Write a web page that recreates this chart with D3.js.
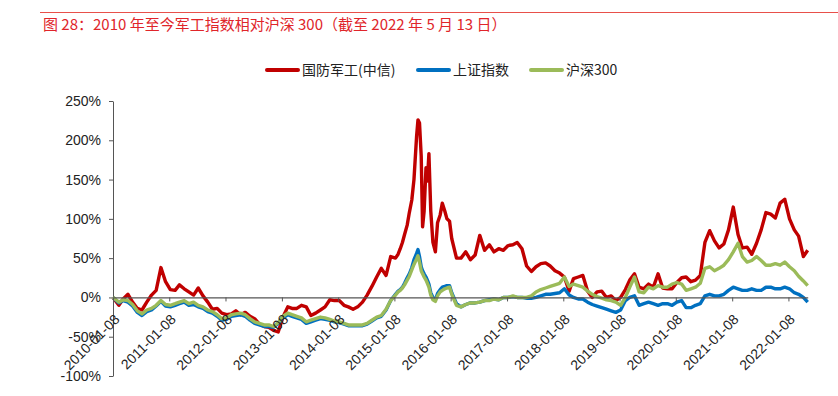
<!DOCTYPE html>
<html>
<head>
<meta charset="utf-8">
<script src="https://cdn.jsdelivr.net/npm/d3@7/dist/d3.min.js"></script>
<style>
  body { margin: 0; background: #fff; }
  svg { display: block; }
</style>
</head>
<body>
<svg id="chart" width="838" height="396"></svg>
<script>
// dates (monthly, with denser points through 2015)
const dates = [
  "2010-01-08","2010-02-15","2010-03-15","2010-04-15","2010-05-15","2010-06-15","2010-07-15","2010-08-15","2010-09-15","2010-10-15","2010-11-15","2010-12-15",
  "2011-01-15","2011-02-15","2011-03-15","2011-04-15","2011-05-15","2011-06-15","2011-07-15","2011-08-15","2011-09-15","2011-10-15","2011-11-15","2011-12-15",
  "2012-01-15","2012-02-15","2012-03-15","2012-04-15","2012-05-15","2012-06-15","2012-07-15","2012-08-15","2012-09-15","2012-10-15","2012-11-15","2012-12-15",
  "2013-01-15","2013-02-15","2013-03-15","2013-04-15","2013-05-15","2013-06-15","2013-07-15","2013-08-15","2013-09-15","2013-10-15","2013-11-15","2013-12-15",
  "2014-01-15","2014-02-15","2014-03-15","2014-04-15","2014-05-15","2014-06-15","2014-07-15","2014-08-15","2014-09-15","2014-10-15","2014-11-15","2014-12-15",
  "2015-01-15","2015-02-01","2015-02-15","2015-03-01","2015-03-15","2015-04-01","2015-04-15","2015-05-01","2015-05-15","2015-06-01","2015-06-10","2015-06-20",
  "2015-07-01","2015-07-10","2015-07-20","2015-08-01","2015-08-10","2015-08-20","2015-09-01","2015-09-15","2015-10-01","2015-10-15","2015-11-01","2015-11-15",
  "2015-12-01","2015-12-15","2016-01-01","2016-01-15",
  "2016-02-15","2016-03-15","2016-04-15","2016-05-15","2016-06-15","2016-07-15","2016-08-15","2016-09-15","2016-10-15","2016-11-15","2016-12-15",
  "2017-01-15","2017-02-15","2017-03-15","2017-04-15","2017-05-15","2017-06-15","2017-07-15","2017-08-15","2017-09-15","2017-10-15","2017-11-15","2017-12-15",
  "2018-01-15","2018-02-15","2018-03-15","2018-04-15","2018-05-15","2018-06-15","2018-07-15","2018-08-15","2018-09-15","2018-10-15","2018-11-15","2018-12-15",
  "2019-01-15","2019-02-15","2019-03-15","2019-04-15","2019-05-15","2019-06-15","2019-07-15","2019-08-15","2019-09-15","2019-10-15","2019-11-15","2019-12-15",
  "2020-01-15","2020-02-15","2020-03-15","2020-04-15","2020-05-15","2020-06-15","2020-07-15","2020-08-15","2020-09-15","2020-10-15","2020-11-15","2020-12-15",
  "2021-01-15","2021-02-15","2021-03-15","2021-04-15","2021-05-15","2021-06-15","2021-07-15","2021-08-15","2021-09-15","2021-10-15","2021-11-15","2021-12-15",
  "2022-01-15","2022-02-15","2022-03-15","2022-04-15","2022-05-13"
]

// 国防军工(中信), relative change %
const defense = [
  0,-10,-2,4,-6,-14,-16,-6,3,9,38,20,
  10,9,16,11,7,3,12,2,-6,-15,-14,-20,
  -22,-21,-17,-22,-19,-24,-27,-34,-37,-38,-42,-44,
  -25,-12,-14,-14,-10,-12,-23,-20,-16,-12,-3,-4,
  -4,-10,-12,-15,-12,-6,3,14,26,37,28,52,
  50,55,62,70,80,92,108,124,150,205,226,222,
  180,90,110,165,148,183,110,70,58,95,105,120,
  110,100,97,75,
  50,50,58,48,54,79,60,67,58,62,60,
  66,67,70,62,40,33,39,43,44,40,34,31,
  26,8,24,26,28,8,0,7,8,0,2,-4,
  0,10,22,30,13,11,17,13,30,12,11,11,
  19,25,26,20,22,28,70,85,72,63,68,86,
  115,80,63,64,55,69,86,108,106,101,120,125,
  100,86,78,52,60
]

// 上证指数
const shIndex = [
  0,-7,-4,-6,-11,-19,-23,-18,-16,-11,-5,-11,
  -12,-10,-8,-6,-10,-9,-12,-14,-18,-20,-24,-29,
  -28,-24,-23,-22,-24,-29,-33,-35,-37,-37,-38,-33,
  -26,-22,-24,-26,-28,-33,-31,-29,-27,-28,-29,-31,
  -32,-34,-36,-36,-36,-36,-34,-30,-26,-24,-16,-4,
  4,8,10,13,18,25,30,38,48,56,61,52,
  39,34,30,26,22,17,6,0,-3,5,10,13,
  14,15,15,6,
  -8,-12,-9,-7,-7,-6,-4,-3,-2,-3,0,
  0,1,0,0,-1,-1,0,2,4,4,5,6,
  11,3,0,-2,-2,-6,-9,-11,-13,-15,-17,-19,
  -16,-4,0,2,-10,-8,-6,-8,-10,-8,-8,-10,
  -6,-4,-13,-13,-10,-8,2,4,2,2,4,9,
  13,11,9,9,11,9,9,13,13,11,11,13,
  11,6,4,0,-6
]

// 沪深300
const csi300 = [
  0,-6,-3,-4,-9,-17,-21,-16,-14,-10,-4,-9,
  -10,-8,-6,-4,-8,-6,-10,-12,-16,-18,-22,-27,
  -26,-22,-21,-20,-22,-27,-31,-33,-35,-35,-37,-32,
  -24,-20,-22,-24,-26,-31,-29,-27,-25,-26,-28,-30,
  -31,-33,-35,-35,-35,-35,-33,-29,-25,-23,-15,-4,
  3,7,9,12,16,22,27,35,42,49,53,45,
  34,30,26,22,18,13,3,-3,-5,2,7,9,
  11,12,13,4,
  -10,-12,-9,-7,-7,-6,-4,-4,-2,-3,0,
  0,2,0,0,0,2,7,10,12,14,16,18,
  26,14,17,15,13,8,4,1,-1,-3,-4,-6,
  -10,0,13,26,7,6,13,11,15,13,13,17,
  19,17,9,11,13,18,37,39,34,37,41,48,
  58,69,52,45,47,52,47,41,41,43,41,45,
  39,34,27,21,15
]

const seriesNames = ["国防军工(中信)", "上证指数", "沪深300"]
const colors = ["#c00000", "#0070c0", "#9bbb59"]
const xTicks = ["2010-01-08","2011-01-08","2012-01-08","2013-01-08","2014-01-08","2015-01-08",
  "2016-01-08","2017-01-08","2018-01-08","2019-01-08","2020-01-08","2021-01-08","2022-01-08"]
const yTicks = [-100, -50, 0, 50, 100, 150, 200, 250]

const parse = d3.timeParse("%Y-%m-%d")
const svg = d3.select("#chart")

// title + rule
svg.append("line")
  .attr("x1", 40).attr("x2", 838).attr("y1", 12.5).attr("y2", 12.5)
  .attr("stroke", "#e8504a").attr("stroke-width", 1)
svg.append("text")
  .attr("x", 43).attr("y", 30)
  .attr("font-family", "'Noto Sans CJK SC', sans-serif")
  .attr("font-size", 15)
  .attr("fill", "#e0252a")
  .text("图 28：2010 年至今军工指数相对沪深 300（截至 2022 年 5 月 13 日）")

// scales
const x = d3.scaleTime()
  .domain([parse("2010-01-08"), parse("2022-05-13")])
  .range([113, 807.7])
const y = d3.scaleLinear().domain([-100, 250]).range([376, 101])

// y axis
const yAxis = svg.append("g")
  .attr("transform", "translate(113,0)")
  .call(d3.axisLeft(y).tickValues(yTicks).tickSize(4).tickSizeOuter(0).tickPadding(8)
    .tickFormat(d => d + "%"))
yAxis.select(".domain").attr("stroke", "#555")
yAxis.selectAll(".tick line").attr("stroke", "#555")
yAxis.selectAll("text")
  .attr("font-family", "'Liberation Sans', Arial, sans-serif")
  .attr("font-size", 14).attr("fill", "#222")

// lines
const line = d3.line()
  .x((d, i) => x(parse(dates[i])))
  .y(d => y(d))

const data = [defense, shIndex, csi300]
svg.append("g")
  .selectAll("path")
  .data(data)
  .enter().append("path")
  .attr("d", d => line(d))
  .attr("fill", "none")
  .attr("stroke", (d, i) => colors[i])
  .attr("stroke-width", 3.4)
  .attr("stroke-linejoin", "round")

// x axis at 0%
const xAxis = svg.append("g")
  .attr("transform", `translate(0,${y(0)})`)
  .call(d3.axisBottom(x).tickValues(xTicks.map(parse)).tickSize(4).tickSizeOuter(0)
    .tickFormat(d3.timeFormat("%Y-%m-%d")))
xAxis.select(".domain").attr("stroke", "#555").attr("stroke-width", 1.3)
xAxis.selectAll(".tick line").attr("stroke", "#555")
xAxis.selectAll("text")
  .attr("font-family", "'Liberation Sans', Arial, sans-serif")
  .attr("font-size", 14).attr("fill", "#222")
  .attr("text-anchor", "end")
  .attr("transform", "translate(-2,14) rotate(-45)")
  .attr("dy", "0.9em")
  .attr("y", 0)

// legend
const legendX = [267, 418, 531]
const lg = svg.append("g")
  .selectAll("g")
  .data(seriesNames)
  .enter().append("g")
  .attr("transform", (d, i) => `translate(${legendX[i]},70)`)
lg.append("line")
  .attr("x1", 0).attr("x2", 31)
  .attr("stroke", (d, i) => colors[i])
  .attr("stroke-width", 4)
  .attr("stroke-linecap", "round")
lg.append("text")
  .attr("x", 35).attr("dy", "0.35em")
  .attr("font-family", "'Noto Sans CJK SC', sans-serif")
  .attr("font-size", 14).attr("fill", "#222")
  .text(d => d)
</script>
</body>
</html>
